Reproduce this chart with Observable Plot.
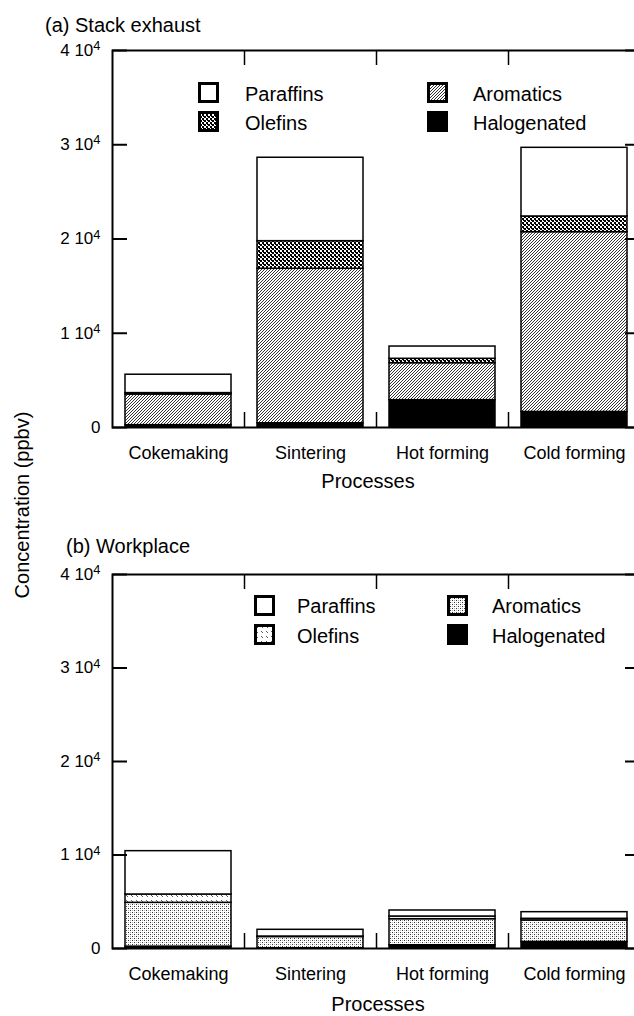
<!DOCTYPE html>
<html><head><meta charset="utf-8">
<script src="https://cdn.jsdelivr.net/npm/d3@7"></script>
<script src="https://cdn.jsdelivr.net/npm/@observablehq/plot@0.6"></script>
<style>
body{margin:0;background:#fff;}
#wrap{position:relative;width:634px;height:1016px;overflow:hidden;background:#fff;font-family:"Liberation Sans",Arial,sans-serif;}
#wrap > svg.plot{position:absolute;left:0;max-width:none;}
#overlay{position:absolute;left:0;top:0;pointer-events:none;}
</style></head><body>
<div id="wrap">
<svg id="overlay" width="634" height="1016" font-family="Liberation Sans, Arial, sans-serif">
<defs>
  <pattern id="olefA" width="4" height="4" patternUnits="userSpaceOnUse">
    <rect width="4" height="4" fill="#fff"/>
    <rect x="0" y="0" width="2" height="2" fill="#000"/>
    <rect x="2" y="2" width="2" height="2" fill="#000"/>
    <rect x="3" y="0" width="1" height="1" fill="#000"/>
  </pattern>
  <pattern id="aromA" width="3" height="3" patternUnits="userSpaceOnUse">
    <rect width="3" height="3" fill="#fff"/>
    <path d="M-1,1 L1,-1 M0,3 L3,0 M2,4 L4,2" stroke="#000" stroke-width="0.8"/>
  </pattern>
  <pattern id="olefB" width="5" height="5" patternUnits="userSpaceOnUse">
    <rect width="5" height="5" fill="#fff"/>
    <path d="M1,1 L3,3" stroke="#333" stroke-width="0.8"/>
  </pattern>
  <pattern id="aromB" width="4" height="4" patternUnits="userSpaceOnUse">
    <rect width="4" height="4" fill="#fff"/>
    <rect x="0" y="0" width="1" height="1" fill="#333"/>
    <rect x="2" y="2" width="1" height="1" fill="#333"/>
    <rect x="2" y="0" width="1" height="1" fill="#aaa"/>
    <rect x="0" y="2" width="1" height="1" fill="#bbb"/>
  </pattern>
</defs>
<g id="texts"></g>
</svg>
</div>
<script>
// ---- data ----
const processes = ["Cokemaking", "Sintering", "Hot forming", "Cold forming"];
const groups = ["Halogenated", "Aromatics", "Olefins", "Paraffins"]; // stack order, bottom → top
const legendOrder = ["Paraffins", "Olefins", "Aromatics", "Halogenated"];
const yTicks = [0, 10000, 20000, 30000, 40000];

// (a) Stack exhaust, ppbv
const stackParaffins   = [1950, 8850, 1300, 7285];
const stackOlefins     = [150, 2930, 465, 1665];
const stackAromatics   = [3250, 16390, 3925, 19075];
const stackHalogenated = [250, 450, 2900, 1650];

// (b) Workplace, ppbv
const workParaffins   = [4635, 720, 645, 710];
const workOlefins     = [890, 50, 285, 175];
const workAromatics   = [4685, 1200, 2785, 2300];
const workHalogenated = [200, 30, 350, 700];

const fillsA = {Paraffins: "#ffffff", Olefins: "url(#olefA)", Aromatics: "url(#aromA)", Halogenated: "#000000"};
const fillsB = {Paraffins: "#ffffff", Olefins: "url(#olefB)", Aromatics: "url(#aromB)", Halogenated: "#000000"};

function rowsFrom(p, o, a, h) {
  const rows = [];
  processes.forEach((proc, i) => {
    rows.push({process: proc, group: "Halogenated", value: h[i]});
    rows.push({process: proc, group: "Aromatics", value: a[i]});
    rows.push({process: proc, group: "Olefins", value: o[i]});
    rows.push({process: proc, group: "Paraffins", value: p[i]});
  });
  return rows;
}

const yFmt = d => d === 0 ? "0" : `${d / 10000} 10^4`;
const W = 646, ML = 112, MR = 6, MT = 50, MB = 50;
const innerW = W - ML - MR;
const step = innerW / processes.length;
const TICK = 15;

function panel(rows, fills, height) {
  const innerH = height - MT - MB;
  const between = processes.slice(0, 3);
  return Plot.plot({
    width: W, height, marginTop: MT, marginBottom: MB, marginLeft: ML, marginRight: MR,
    style: {fontFamily: "Liberation Sans, Arial, sans-serif", fontSize: "18px", background: "transparent", color: "black", maxWidth: "none"},
    x: {domain: processes, paddingInner: 0.2, paddingOuter: 0.1, label: null},
    y: {domain: [0, 40000], label: null},
    color: {domain: groups, range: groups.map(g => fills[g])},
    marks: [
      Plot.barY(rows, {x: "process", y: "value", fill: "group", order: groups, stroke: "black", strokeWidth: 1.5}),
      // y labels
      Plot.axisY({anchor: "left", ticks: yTicks, tickSize: 0, tickPadding: 12, tickFormat: yFmt, fontSize: 17, label: null}),
      // inward ticks, left and right edges
      Plot.tickY(yTicks, {y: d => d, insetRight: innerW - TICK, stroke: "black", strokeWidth: 2}),
      Plot.tickY(yTicks, {y: d => d, insetLeft: innerW - TICK, stroke: "black", strokeWidth: 2}),
      // category labels
      Plot.axisX({anchor: "bottom", tickSize: 0, tickPadding: 19, fontSize: 18, label: null}),
      // separators between categories, bottom and top edges
      Plot.tickX(between, {x: d => d, dx: step / 2, insetTop: innerH - TICK, stroke: "black", strokeWidth: 1.5}),
      Plot.tickX(between, {x: d => d, dx: step / 2, insetBottom: innerH - TICK, stroke: "black", strokeWidth: 1.5}),
      Plot.frame({stroke: "black", strokeWidth: 2})
    ]
  });
}

function superscripts(svg) {
  d3.select(svg).selectAll("text").each(function() {
    const m = /^(\d) 10\^4$/.exec(this.textContent);
    if (!m) return;
    const el = d3.select(this);
    el.text(`${m[1]} 10`);
    el.append("tspan").attr("dy", "-0.45em").attr("font-size", "0.76em").text("4");
  });
}

const wrap = document.getElementById("wrap");
const overlay = document.getElementById("overlay");
const p1 = panel(rowsFrom(stackParaffins, stackOlefins, stackAromatics, stackHalogenated), fillsA, 477);
p1.classList.add("plot"); p1.style.top = "0px";
const p2 = panel(rowsFrom(workParaffins, workOlefins, workAromatics, workHalogenated), fillsB, 474);
p2.classList.add("plot"); p2.style.top = "524px";
superscripts(p1); superscripts(p2);
wrap.insertBefore(p1, overlay);
wrap.insertBefore(p2, overlay);

// ---- texts & legends ----
const g = d3.select("#texts");
function txt(x, y, s, size, anchor = "start", rot = 0) {
  g.append("text").attr("transform", `translate(${x},${y}) rotate(${rot})`)
    .attr("text-anchor", anchor).attr("font-size", size).attr("fill", "black").text(s);
}
txt(45, 32, "(a) Stack exhaust", 20);
txt(368, 488, "Processes", 20, "middle");
txt(66, 553, "(b) Workplace", 20);
txt(378, 1011, "Processes", 20, "middle");
txt(29, 505, "Concentration (ppbv)", 20, "middle", -90);

function legend(fills, pos) {
  legendOrder.forEach((name, i) => {
    const col = i < 2 ? 0 : 1, row = i % 2;
    const x = pos.x[col], y = pos.y[row];
    g.append("rect").attr("x", x + 1.5).attr("y", y + 1.5).attr("width", 18).attr("height", 18)
      .attr("fill", fills[name]).attr("stroke", "black").attr("stroke-width", 3);
    txt(pos.tx[col], pos.ty[row], name, 20);
  });
}
legend(fillsA, {x: [198, 427], y: [82, 111], tx: [245, 473], ty: [101, 130]});
legend(fillsB, {x: [254, 447], y: [595, 624], tx: [297, 492], ty: [613, 643]});
</script>
</body></html>
